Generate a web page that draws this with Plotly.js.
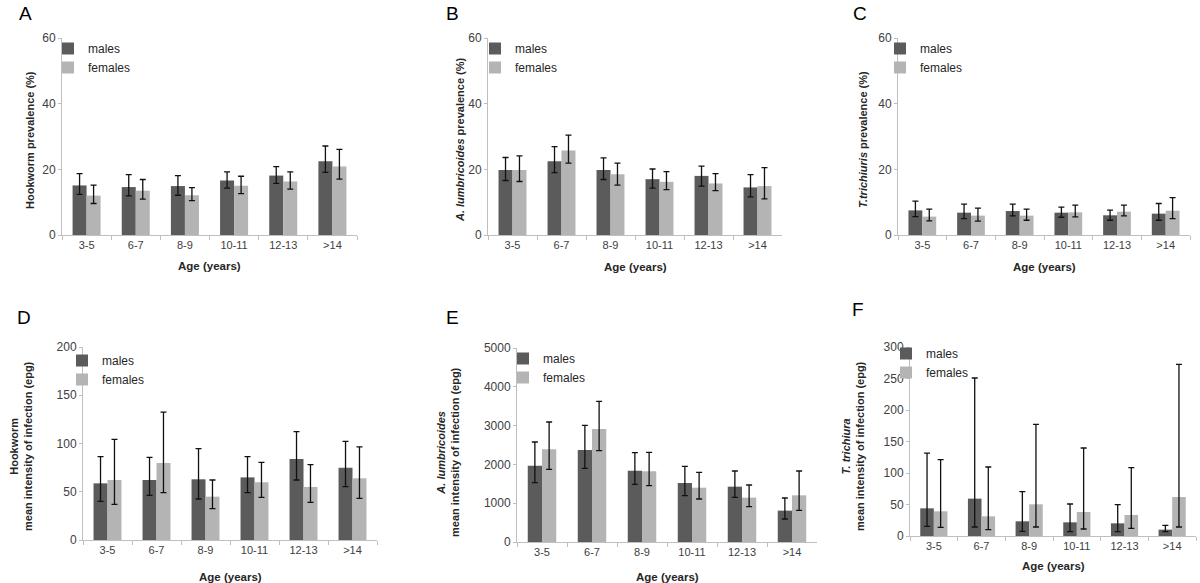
<!DOCTYPE html>
<html>
<head>
<meta charset="utf-8">
<script src="https://cdn.plot.ly/plotly-3.0.1.min.js"></script>
<style>html,body{margin:0;padding:0;background:#fff;}#chart{width:1200px;height:583px;}</style>
</head>
<body>
<div id="chart"></div>
<script>
// ---- data ----
const categories = ['3-5', '6-7', '8-9', '10-11', '12-13', '>14'];
const seriesNames = ['males', 'females'];

// A: Hookworm prevalence (%)
const hookPrevMales   = [15.1, 14.6, 14.9, 16.6, 18.1, 22.5];
const hookPrevMalesHi = [18.7, 18.4, 18.1, 19.2, 20.8, 27.1];
const hookPrevMalesLo = [12.4, 11.9, 12.1, 14.3, 15.7, 19.1];
const hookPrevFem     = [12.0, 13.5, 12.1, 15.0, 16.3, 20.9];
const hookPrevFemHi   = [15.2, 16.9, 14.4, 17.9, 19.2, 26.1];
const hookPrevFemLo   = [9.6, 10.9, 10.5, 12.6, 14.0, 17.0];

// B: A. lumbricoides prevalence (%)
const ascPrevMales   = [19.8, 22.5, 19.8, 17.0, 18.0, 14.5];
const ascPrevMalesHi = [23.6, 26.9, 23.5, 20.1, 21.0, 18.4];
const ascPrevMalesLo = [16.6, 19.0, 16.9, 14.3, 14.9, 11.6];
const ascPrevFem     = [19.8, 25.7, 18.5, 16.2, 15.7, 14.9];
const ascPrevFemHi   = [24.1, 30.4, 21.9, 19.3, 18.7, 20.5];
const ascPrevFemLo   = [16.3, 21.9, 15.2, 13.8, 13.5, 11.0];

// C: T. trichiuris prevalence (%)
const triPrevMales   = [7.5, 6.8, 7.3, 6.8, 6.0, 6.5];
const triPrevMalesHi = [10.3, 9.4, 9.4, 8.5, 7.6, 9.6];
const triPrevMalesLo = [5.6, 5.0, 5.8, 5.4, 4.5, 4.5];
const triPrevFem     = [5.6, 5.9, 5.9, 6.9, 7.1, 7.4];
const triPrevFemHi   = [7.9, 8.2, 7.9, 9.1, 9.1, 11.4];
const triPrevFemLo   = [4.3, 4.2, 4.5, 5.5, 5.8, 5.0];

// D: Hookworm mean intensity (epg)
const hookIntMales   = [58.7, 62.2, 62.9, 64.9, 83.9, 75.0];
const hookIntMalesHi = [86.4, 85.7, 94.6, 86.4, 112.3, 102.2];
const hookIntMalesLo = [40.1, 46.3, 42.5, 49.1, 62.2, 55.3];
const hookIntFem     = [62.2, 79.8, 44.9, 59.8, 54.9, 63.9];
const hookIntFemHi   = [104.3, 132.6, 62.2, 80.5, 78.1, 96.4];
const hookIntFemLo   = [37.0, 49.1, 32.5, 44.2, 39.0, 43.2];

// E: A. lumbricoides mean intensity (epg)
const ascIntMales   = [1967, 2371, 1838, 1521, 1426, 808];
const ascIntMalesHi = [2577, 3007, 2302, 1950, 1830, 1134];
const ascIntMalesLo = [1529, 1899, 1486, 1194, 1151, 593];
const ascIntFem     = [2388, 2912, 1821, 1400, 1143, 1203];
const ascIntFemHi   = [3093, 3625, 2311, 1796, 1469, 1830];
const ascIntFemLo   = [1873, 2354, 1452, 1108, 911, 816];

// F: T. trichiura mean intensity (epg)
const triIntMales   = [43.9, 59.3, 23.3, 21.7, 20.1, 10.1];
const triIntMalesHi = [131.7, 250.8, 70.4, 50.8, 49.7, 16.9];
const triIntMalesLo = [15.3, 14.3, 7.4, 6.9, 6.9, 6.9];
const triIntFem     = [39.2, 31.2, 50.3, 38.1, 33.3, 61.9];
const triIntFemHi   = [121.2, 109.5, 177.2, 139.7, 108.5, 272.5];
const triIntFemLo   = [13.8, 10.1, 14.3, 11.1, 12.2, 14.3];

const panelLetters = ['A', 'B', 'C', 'D', 'E', 'F'];
const yTitles = [
  '<b>Hookworm prevalence (%)</b>',
  '<b><i>A. lumbricoides</i> prevalence (%)</b>',
  '<b><i>T.trichiuris</i> prevalence (%)</b>',
  '<b>Hookworm</b><br><b>mean intensity of infection (epg)</b>',
  '<b><i>A. lumbricoides</i></b><br><b>mean intensity of infection (epg)</b>',
  '<b><i>T. trichiura</i></b><br><b>mean intensity of infection (epg)</b>'
];
const xTitle = '<b>Age (years)</b>';
const yRanges = [[0, 60], [0, 60], [0, 60], [0, 200], [0, 5000], [0, 300]];
const yTicks = [[0, 20, 40, 60], [0, 20, 40, 60], [0, 20, 40, 60],
                [0, 50, 100, 150, 200], [0, 1000, 2000, 3000, 4000, 5000],
                [0, 50, 100, 150, 200, 250, 300]];

const panels = [
  [hookPrevMales, hookPrevMalesHi, hookPrevMalesLo, hookPrevFem, hookPrevFemHi, hookPrevFemLo],
  [ascPrevMales, ascPrevMalesHi, ascPrevMalesLo, ascPrevFem, ascPrevFemHi, ascPrevFemLo],
  [triPrevMales, triPrevMalesHi, triPrevMalesLo, triPrevFem, triPrevFemHi, triPrevFemLo],
  [hookIntMales, hookIntMalesHi, hookIntMalesLo, hookIntFem, hookIntFemHi, hookIntFemLo],
  [ascIntMales, ascIntMalesHi, ascIntMalesLo, ascIntFem, ascIntFemHi, ascIntFemLo],
  [triIntMales, triIntMalesHi, triIntMalesLo, triIntFem, triIntFemHi, triIntFemLo]
];

// ---- layout geometry (pixels) ----
const W = 1200, H = 583;
const plotBox = [ // [left, right, top, bottom]
  [62, 357, 38, 235], [488, 782, 38, 235], [898, 1190, 38, 235],
  [83, 377, 347, 540], [517, 817, 348, 542], [910, 1196, 347, 536]
];
const legendPos = [[48, 34], [475, 34], [880, 34], [62, 346], [503, 344], [886, 339]];
const yTitlePos = [[30, 140], [460, 140], [863, 140], [21, 446], [448, 452], [853, 446]];
const xTitleY = [266, 267, 267, 577, 577, 566];
const letterPos = [[25, 13], [452, 13], [860, 13], [24, 317], [452, 317], [858, 309]];

const maleColor = '#5b5b5b', femColor = '#b4b4b4';
const textColor = '#262626', tickColor = '#404040', axisColor = '#bfbfbf';
const FONT = 'Liberation Sans, Arial, sans-serif';

const traces = [];
const layout = {
  width: W, height: H,
  margin: {l: 0, r: 0, t: 0, b: 0},
  paper_bgcolor: '#ffffff', plot_bgcolor: '#ffffff',
  barmode: 'group', bargap: 0.43, bargroupgap: 0,
  font: {family: FONT, color: textColor},
  showlegend: true,
  annotations: []
};

panels.forEach((p, i) => {
  const n = i === 0 ? '' : String(i + 1);
  const xa = 'x' + n, ya = 'y' + n;
  const lg = 'legend' + n;
  const [mv, mhi, mlo, fv, fhi, flo] = p;
  traces.push({
    type: 'bar', name: seriesNames[0], x: categories, y: mv,
    xaxis: xa, yaxis: ya, legend: lg,
    marker: {color: maleColor, line: {width: 0}},
    error_y: {type: 'data', symmetric: false,
      array: mhi.map((h, k) => h - mv[k]), arrayminus: mlo.map((l, k) => mv[k] - l),
      color: '#111111', thickness: 1.3, width: 3}
  });
  traces.push({
    type: 'bar', name: seriesNames[1], x: categories, y: fv,
    xaxis: xa, yaxis: ya, legend: lg,
    marker: {color: femColor, line: {width: 0}},
    error_y: {type: 'data', symmetric: false,
      array: fhi.map((h, k) => h - fv[k]), arrayminus: flo.map((l, k) => fv[k] - l),
      color: '#111111', thickness: 1.3, width: 3}
  });
  const b = plotBox[i];
  layout['xaxis' + n] = {
    domain: [b[0] / W, b[1] / W], anchor: ya, type: 'category',
    showline: true, linecolor: axisColor, linewidth: 1,
    ticks: 'outside', tickson: 'boundaries', ticklen: 4, tickcolor: axisColor,
    tickfont: {size: 11, color: tickColor, family: FONT},
    showgrid: false, zeroline: false, fixedrange: true
  };
  layout['yaxis' + n] = {
    domain: [1 - b[3] / H, 1 - b[2] / H], anchor: xa,
    range: yRanges[i], tickvals: yTicks[i], ticktext: yTicks[i].map(String),
    showline: true, linecolor: axisColor, linewidth: 1,
    ticks: 'outside', ticklen: 3, tickcolor: axisColor,
    tickfont: {size: 12, color: tickColor, family: FONT},
    showgrid: false, zeroline: false, fixedrange: true
  };
  layout[lg] = {
    x: legendPos[i][0] / W, y: 1 - legendPos[i][1] / H,
    xanchor: 'left', yanchor: 'top',
    bgcolor: 'rgba(0,0,0,0)', borderwidth: 0,
    font: {size: 12, color: textColor, family: FONT},
    itemwidth: 30, tracegroupgap: 0, traceorder: 'normal'
  };
  layout.annotations.push({
    text: yTitles[i], xref: 'paper', yref: 'paper',
    x: yTitlePos[i][0] / W, y: 1 - yTitlePos[i][1] / H,
    xanchor: 'center', yanchor: 'middle', textangle: -90, showarrow: false,
    font: {size: 11, color: textColor, family: FONT}
  });
  layout.annotations.push({
    text: xTitle, xref: 'paper', yref: 'paper',
    x: (b[0] + b[1]) / 2 / W, y: 1 - xTitleY[i] / H,
    xanchor: 'center', yanchor: 'middle', showarrow: false,
    font: {size: 11.5, color: textColor, family: FONT}
  });
  layout.annotations.push({
    text: panelLetters[i], xref: 'paper', yref: 'paper',
    x: letterPos[i][0] / W, y: 1 - letterPos[i][1] / H,
    xanchor: 'center', yanchor: 'middle', showarrow: false,
    font: {size: 19, color: '#000000', family: FONT}
  });
});

Plotly.newPlot('chart', traces, layout, {displayModeBar: false, staticPlot: true});
</script>
</body>
</html>
